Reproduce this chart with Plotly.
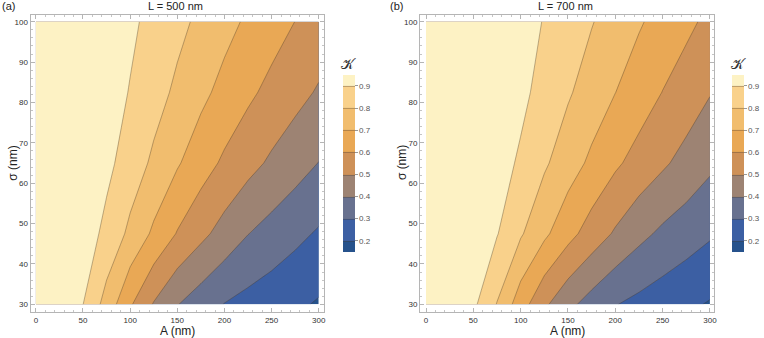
import plotly.graph_objects as go

# ---- data ----
A_nm = [0, 25, 50, 75, 100, 125, 150, 175, 200, 225, 250, 275, 300]
sigma_nm = [30, 47.5, 65, 82.5, 100]

K_L500 = [
    [1.000, 0.970, 0.901, 0.762, 0.612, 0.493, 0.404, 0.348, 0.297, 0.268, 0.243, 0.218, 0.190],
    [1.000, 0.985, 0.955, 0.873, 0.778, 0.682, 0.594, 0.525, 0.462, 0.402, 0.363, 0.325, 0.289],
    [1.000, 0.985, 0.960, 0.925, 0.853, 0.782, 0.710, 0.644, 0.583, 0.532, 0.484, 0.441, 0.398],
    [1.000, 0.990, 0.970, 0.945, 0.895, 0.838, 0.781, 0.724, 0.670, 0.619, 0.573, 0.531, 0.490],
    [1.000, 0.995, 0.980, 0.955, 0.918, 0.872, 0.826, 0.779, 0.731, 0.685, 0.642, 0.599, 0.560],
]
K_L700 = [
    [1.000, 0.975, 0.920, 0.796, 0.646, 0.518, 0.426, 0.360, 0.304, 0.274, 0.247, 0.219, 0.192],
    [1.000, 0.985, 0.960, 0.905, 0.811, 0.720, 0.633, 0.556, 0.488, 0.427, 0.381, 0.347, 0.312],
    [1.000, 0.990, 0.970, 0.940, 0.886, 0.814, 0.746, 0.680, 0.616, 0.564, 0.515, 0.467, 0.420],
    [1.000, 0.993, 0.980, 0.955, 0.923, 0.867, 0.811, 0.756, 0.701, 0.649, 0.598, 0.555, 0.505],
    [1.000, 0.995, 0.985, 0.965, 0.940, 0.895, 0.850, 0.805, 0.758, 0.710, 0.665, 0.621, 0.578],
]

panel_titles = ["L = 500 nm", "L = 700 nm"]
panel_labels = ["(a)", "(b)"]
cbar_ticks = [0.2, 0.3, 0.4, 0.5, 0.6, 0.7, 0.8, 0.9]

band_colors = [
    "rgb(38,82,140)", "rgb(60,95,163)", "rgb(104,113,143)", "rgb(157,131,115)",
    "rgb(206,145,88)", "rgb(233,168,85)", "rgb(241,189,110)", "rgb(249,209,139)",
    "rgb(253,242,196)",
]

# stepped colorscale with 9 equal bands
n = len(band_colors)
colorscale = []
for i, c in enumerate(band_colors):
    colorscale.append([i / n, c])
    colorscale.append([(i + 1) / n, c])

W, H = 764, 338
FONT = "Liberation Sans, Arial, sans-serif"

fig = go.Figure()

panels = [
    dict(z=K_L500, xdom=(30.7, 325.0), xr=(-5.6, 305.3), cbx=344.3, lab_x=0, title_x=176),
    dict(z=K_L700, xdom=(421.7, 717.3), xr=(-6.3, 304.8), cbx=735.3, lab_x=390, title_x=568),
]
ydom = ((H - 312.0) / H, (H - 15.3) / H)
yr = (28.1, 101.6)
cb_top, cb_bot = 75.0, 251.7

for k, p in enumerate(panels):
    xa = "x" if k == 0 else "x2"
    ya = "y" if k == 0 else "y2"
    fig.add_trace(go.Contour(
        x=A_nm, y=sigma_nm, z=p["z"],
        xaxis=xa, yaxis=ya,
        colorscale=colorscale,
        contours=dict(start=0.2, end=0.9, size=0.1, coloring="fill"),
        line=dict(color="rgba(70,55,40,0.45)", width=0.8, smoothing=0),
        hoverinfo="skip",
        colorbar=dict(
            x=p["cbx"] / W, xanchor="left", xpad=0,
            y=(H - (cb_top + cb_bot) / 2) / H, yanchor="middle", ypad=0,
            len=(cb_bot - cb_top) / H, lenmode="fraction",
            thickness=12, thicknessmode="pixels",
            outlinewidth=0,
            tickvals=cbar_ticks, ticktext=[f"{v:.1f}" for v in cbar_ticks],
            ticks="outside", ticklen=3, tickcolor="#999",
            tickfont=dict(size=8, color="#555", family=FONT),
        ),
    ))
    axis_common = dict(
        showgrid=False, zeroline=False, showline=True, mirror="ticks",
        linecolor="#b5b5b5", linewidth=1,
        ticks="inside", ticklen=4, tickcolor="#b5b5b5",
        tickfont=dict(size=8, color="#333", family=FONT),
    )
    xkey = "xaxis" if k == 0 else "xaxis2"
    ykey = "yaxis" if k == 0 else "yaxis2"
    fig.update_layout(**{
        xkey: dict(axis_common, domain=[p["xdom"][0] / W, p["xdom"][1] / W],
                   range=list(p["xr"]), tickvals=[0, 50, 100, 150, 200, 250, 300],
                   minor=dict(dtick=10, tick0=0, ticks="inside", ticklen=2, tickcolor="#c5c5c5"),
                   anchor=ya),
        ykey: dict(axis_common, domain=list(ydom), range=list(yr),
                   tickvals=[30, 40, 50, 60, 70, 80, 90, 100],
                   minor=dict(dtick=2, tick0=0, ticks="inside", ticklen=2, tickcolor="#c5c5c5"),
                   anchor=xa),
    })
    fig.add_annotation(text=panel_titles[k], x=p["title_x"] / W, y=1 - 6 / H, xref="paper", yref="paper",
                       showarrow=False, xanchor="center", yanchor="middle",
                       font=dict(size=11, color="#222", family=FONT))
    fig.add_annotation(text=panel_labels[k], x=p["lab_x"] / W, y=1 - 6 / H, xref="paper", yref="paper",
                       showarrow=False, xanchor="left", yanchor="middle",
                       font=dict(size=11, color="#222", family=FONT))
    fig.add_annotation(text="A (nm)", x=(p["xdom"][0] + p["xdom"][1]) / 2 / W, y=1 - 331 / H,
                       xref="paper", yref="paper", showarrow=False, xanchor="center", yanchor="middle",
                       font=dict(size=12, color="#222", family=FONT))
    fig.add_annotation(text="σ (nm)", x=(p["xdom"][0] - 18) / W, y=1 - 163 / H,
                       xref="paper", yref="paper", showarrow=False, xanchor="center", yanchor="middle",
                       textangle=-90, font=dict(size=12, color="#222", family=FONT))
    fig.add_annotation(text="𝒦", x=(p["cbx"] + 6) / W, y=1 - 64 / H,
                       xref="paper", yref="paper", showarrow=False, xanchor="center", yanchor="middle",
                       font=dict(size=14, color="#333", family="DejaVu Serif, serif"))

fig.update_layout(
    width=W, height=H,
    margin=dict(l=0, r=0, t=0, b=0),
    paper_bgcolor="white", plot_bgcolor="white",
    showlegend=False,
)

fig.write_html("out.html", config={"displayModeBar": False},
               post_script="document.body.style.margin='0';")
